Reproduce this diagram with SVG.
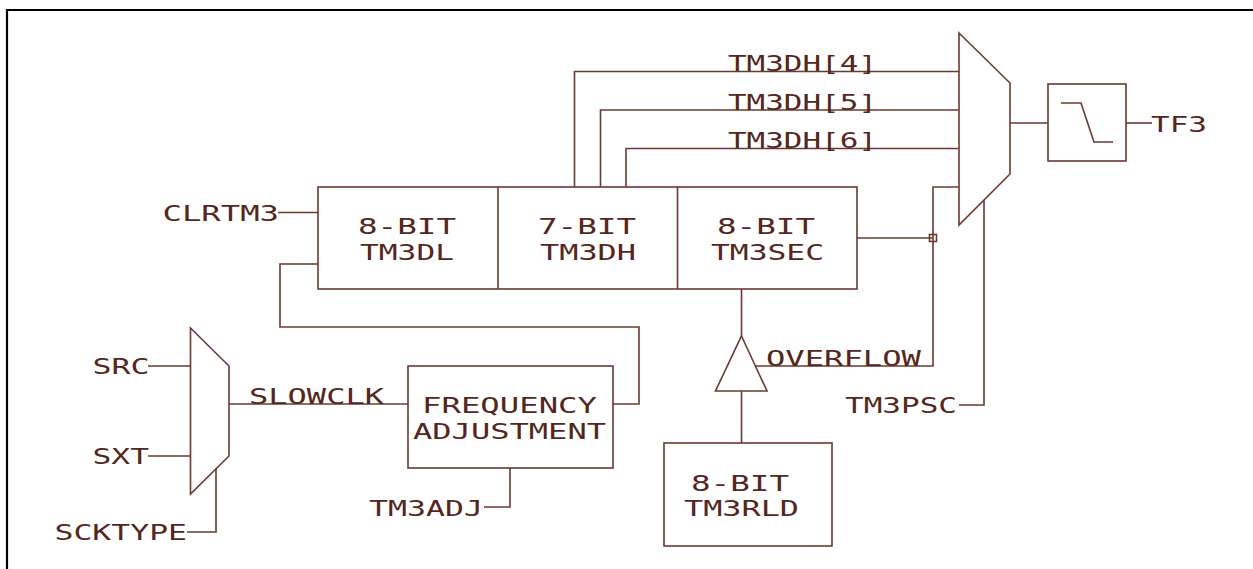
<svg xmlns="http://www.w3.org/2000/svg" width="1253" height="569" viewBox="0 0 1253 569">
<style>
  .ln{fill:none;stroke:#6A3A2E;stroke-width:1.6;stroke-linejoin:miter}
  .box{fill:#fff;stroke:#6A3A2E;stroke-width:1.6}
  .t{font-family:"DejaVu Sans Mono","Liberation Mono",monospace;font-size:22px;fill:#55261B;letter-spacing:0px}
</style>
<rect x="0" y="0" width="1253" height="569" fill="#fff"/>
<path d="M7 569V10H1253" fill="none" stroke="#000" stroke-width="2.2"/>

<g id="connectors">
  <path class="ln" d="M574.5 187V71.5H959"/>
  <path class="ln" d="M600.5 187V110H959"/>
  <path class="ln" d="M626 187V148.5H959"/>
  <path class="ln" d="M857 238H933"/>
  <path class="ln" d="M959 187H933V366H756"/>
  <rect class="ln" x="929.5" y="234.5" width="7" height="7"/>
  <path class="ln" d="M1010 123H1048"/>
  <path class="ln" d="M1126 123H1152"/>
  <path class="ln" d="M984 200V405H959"/>
  <path class="ln" d="M278 212.5H318"/>
  <path class="ln" d="M318 264H280V327H639V404H613"/>
  <path class="ln" d="M229 404H408"/>
  <path class="ln" d="M510 468V507H484"/>
  <path class="ln" d="M148 366H190.5"/>
  <path class="ln" d="M148 456H190.5"/>
  <path class="ln" d="M216 469V532H187"/>
  <path class="ln" d="M741.5 289V336"/>
  <path class="ln" d="M741.5 391V443"/>
</g>

<g id="register">
  <rect class="box" x="318" y="187" width="539" height="102"/>
  <path class="ln" d="M498 187V289M677.5 187V289"/>
  <text class="t" x="358" y="234" textLength="98" lengthAdjust="spacingAndGlyphs">8-BIT</text>
  <text class="t" x="360" y="260" textLength="94" lengthAdjust="spacingAndGlyphs">TM3DL</text>
  <text class="t" x="538" y="234" textLength="98" lengthAdjust="spacingAndGlyphs">7-BIT</text>
  <text class="t" x="540" y="260" textLength="96" lengthAdjust="spacingAndGlyphs">TM3DH</text>
  <text class="t" x="717" y="234" textLength="98" lengthAdjust="spacingAndGlyphs">8-BIT</text>
  <text class="t" x="711" y="260" textLength="113" lengthAdjust="spacingAndGlyphs">TM3SEC</text>
</g>

<g id="mux-out">
  <polygon class="box" points="959,33 1010,83 1010,174 959,225"/>
</g>

<g id="filter">
  <rect class="box" x="1048" y="84" width="78" height="77"/>
  <path class="ln" d="M1061 103H1081L1094 142H1113"/>
</g>

<g id="mux-in">
  <polygon class="box" points="190.5,328 229,366 229,456 190.5,494"/>
</g>

<g id="freq-adj">
  <rect class="box" x="408" y="366" width="205" height="102"/>
  <text class="t" x="422" y="413" textLength="175" lengthAdjust="spacingAndGlyphs">FREQUENCY</text>
  <text class="t" x="413" y="439" textLength="193" lengthAdjust="spacingAndGlyphs">ADJUSTMENT</text>
</g>

<g id="buffer">
  <polygon class="box" points="741.5,336 767,391 715.5,391"/>
</g>

<g id="reload">
  <rect class="box" x="664" y="443" width="168" height="103"/>
  <text class="t" x="691" y="491" textLength="98" lengthAdjust="spacingAndGlyphs">8-BIT</text>
  <text class="t" x="684" y="516" textLength="115" lengthAdjust="spacingAndGlyphs">TM3RLD</text>
</g>

<g id="labels">
  <text class="t" x="728" y="71" textLength="149" lengthAdjust="spacingAndGlyphs">TM3DH[4]</text>
  <text class="t" x="728" y="110" textLength="149" lengthAdjust="spacingAndGlyphs">TM3DH[5]</text>
  <text class="t" x="728" y="148" textLength="149" lengthAdjust="spacingAndGlyphs">TM3DH[6]</text>
  <text class="t" x="1151" y="132" textLength="56" lengthAdjust="spacingAndGlyphs">TF3</text>
  <text class="t" x="766" y="366" textLength="155" lengthAdjust="spacingAndGlyphs">OVERFLOW</text>
  <text class="t" x="845" y="413" textLength="112" lengthAdjust="spacingAndGlyphs">TM3PSC</text>
  <text class="t" x="162.5" y="221" textLength="116.5" lengthAdjust="spacingAndGlyphs">CLRTM3</text>
  <text class="t" x="249" y="404" textLength="135" lengthAdjust="spacingAndGlyphs">SLOWCLK</text>
  <text class="t" x="369" y="516" textLength="114" lengthAdjust="spacingAndGlyphs">TM3ADJ</text>
  <text class="t" x="92.5" y="374" textLength="57" lengthAdjust="spacingAndGlyphs">SRC</text>
  <text class="t" x="92.5" y="464" textLength="56.5" lengthAdjust="spacingAndGlyphs">SXT</text>
  <text class="t" x="54.5" y="540" textLength="132.5" lengthAdjust="spacingAndGlyphs">SCKTYPE</text>
</g>
</svg>
